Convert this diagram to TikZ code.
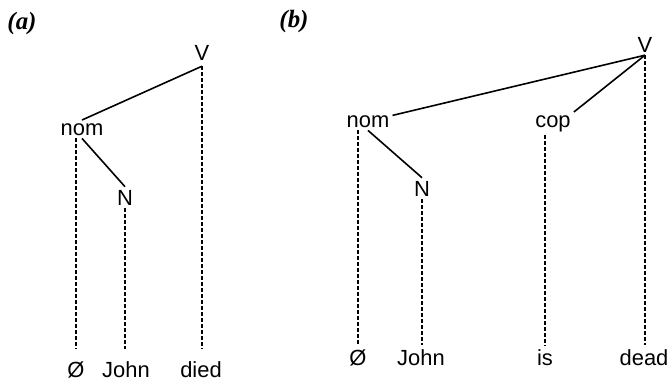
\documentclass[tikz,border=0pt]{standalone}
\usepackage{fontspec}
\setmainfont{Liberation Sans}
\newfontfamily\tagfont{Liberation Serif}
\usetikzlibrary{positioning}

\begin{document}
\begin{tikzpicture}[x=1bp,y=-1bp,
  cat/.style={inner sep=3bp,anchor=base,font=\fontsize{22}{22}\selectfont},
  word/.style={inner sep=0pt,anchor=base,font=\fontsize{22}{22}\selectfont},
  tag/.style={inner sep=0pt},
  branch/.style={line width=1.6bp},
  assoc/.style={line width=1.2bp,dash pattern=on 4bp off 2bp}]
\useasboundingbox (0,0) rectangle (671,381);
% (a) died
\node[tag] (tagA) at (22,24) {\tagfont\fontsize{25}{25}\selectfont\bfseries\itshape (a)};
\node[cat,inner sep=6bp] (aV) at (202,60) {V};
\node[cat] (anom) at (82,135) {nom};
\node[cat] (aN) at (125,205) {N};
\node[word] (azero) at (76,377) {Ø};
\node[word] (aJohn) at (126,377) {John};
\node[word] (adied) at (201,377) {died};
\draw[branch] (aV.south) -- (anom.north);
\draw[branch] (anom.south) -- (aN.north);
\begin{scope}[assoc/.append style={shorten >=12bp}]
\draw[assoc] (azero |- anom.south) -- (azero.north);
\draw[assoc] (aN.south) -- (aN |- aJohn.north);
\draw[assoc] (aV.south) -- (aV |- adied.north);
\end{scope}
% (b) dead
\node[tag] (tagB) at (294,22) {\tagfont\fontsize{25}{25}\selectfont\bfseries\itshape (b)};
\node[cat] (bV) at (645,52) {V};
\node[cat] (bnom) at (368,127) {nom};
\node[cat] (bcop) at (553,127) {cop};
\node[cat] (bN) at (422,196) {N};
\node[word] (bzero) at (358,365) {Ø};
\node[word] (bJohn) at (421,365) {John};
\node[word] (bis) at (545,365) {is};
\node[word] (bdead) at (644,365) {dead};
\draw[branch] (bV.south) -- (bnom);
\draw[branch] (bV.south) -- (bcop.north east);
\draw[branch] (bnom.south) -- (bN.north);
\begin{scope}[assoc/.append style={shorten >=4bp}]
\draw[assoc] (bzero |- bnom.south) -- (bzero.north);
\draw[assoc] (bN.south) -- (bN |- bJohn.north);
\draw[assoc] (bis |- bcop.south) -- (bis.north);
\draw[assoc] (bV.south) -- (bV |- bdead.north);
\end{scope}
\end{tikzpicture}
\end{document}
